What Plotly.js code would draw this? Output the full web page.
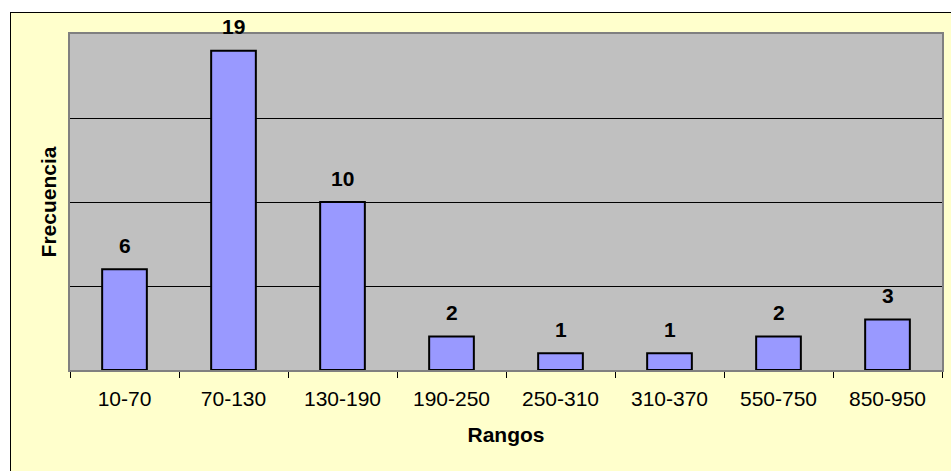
<!DOCTYPE html>
<html>
<head>
<meta charset="utf-8">
<script src="https://cdn.plot.ly/plotly-3.0.1.min.js"></script>
<style>
  html, body { margin: 0; padding: 0; background: #ffffff; overflow: hidden; width: 951px; height: 471px; }
  #frame { position: absolute; left: 10px; top: 12px; width: 941px; height: 459px;
           border-left: 1px solid #000; border-top: 1px solid #000; box-sizing: border-box; background: #FFFFCC; }
  #chart { width: 940px; height: 458px; }
</style>
</head>
<body>
<div id="frame"><div id="chart"></div></div>
<script>
const categories = ["10-70", "70-130", "130-190", "190-250", "250-310", "310-370", "550-750", "850-950"];
const frequencies = [6, 19, 10, 2, 1, 1, 2, 3];
const xTitle = "Rangos";
const yTitle = "Frecuencia";

const FONT = "Arial, 'Liberation Sans', sans-serif";
const FS = 21;

const trace = {
  type: "bar",
  x: categories,
  y: frequencies,
  width: 0.41,
  marker: { color: "#9999FF", line: { color: "#000000", width: 2 } },
  hoverinfo: "x+y"
};

const labels = categories.map((c, i) => ({
  x: c, y: frequencies[i], xref: "x", yref: "y",
  text: "<b>" + frequencies[i] + "</b>",
  showarrow: false, yanchor: "middle", yshift: 24,
  font: { family: FONT, size: FS, color: "#000" }
}));

const layout = {
  width: 940, height: 458,
  margin: { l: 59, r: 9, t: 21, b: 101 },
  paper_bgcolor: "#FFFFCC",
  plot_bgcolor: "#C0C0C0",
  showlegend: false,
  font: { family: FONT, size: FS, color: "#000" },
  xaxis: {
    type: "category",
    tickson: "boundaries",
    ticks: "outside", ticklen: 6, tickwidth: 1, tickcolor: "#000",
    ticklabelstandoff: 9,
    showline: true, linecolor: "#808080", linewidth: 2, mirror: true,
    showgrid: false,
    tickfont: { family: FONT, size: FS, color: "#000" },
    title: { text: "<b>" + xTitle + "</b>", font: { family: FONT, size: FS, color: "#000" }, standoff: 18 }
  },
  yaxis: {
    range: [0, 20], dtick: 5,
    showticklabels: false, ticks: "",
    showgrid: true, gridcolor: "#000", gridwidth: 1,
    zeroline: false,
    showline: true, linecolor: "#808080", linewidth: 2, mirror: true,
    title: { text: "<b>" + yTitle + "</b>", font: { family: FONT, size: FS, color: "#000" }, standoff: 6 }
  },
  annotations: labels
};

Plotly.newPlot("chart", [trace], layout, { displayModeBar: false, staticPlot: true });
</script>
</body>
</html>
